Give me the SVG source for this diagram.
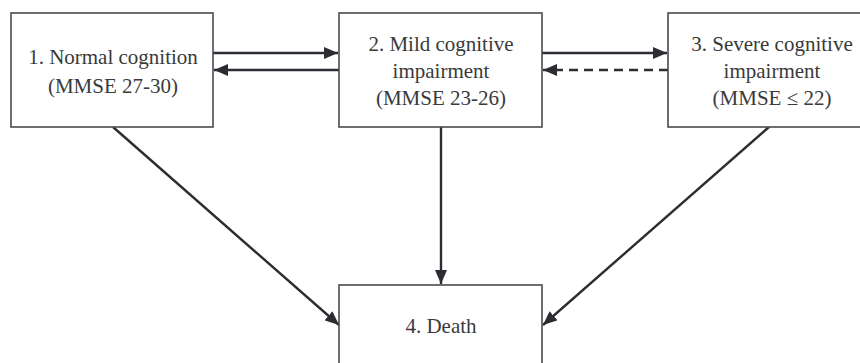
<svg xmlns="http://www.w3.org/2000/svg" width="860" height="363" viewBox="0 0 860 363">
<defs>
<style>
.box{fill:#fff;stroke:#4a4a4f;stroke-width:1.6}
.c{stroke:#2b2d33;stroke-width:2.4;fill:none}
.d{stroke-dasharray:9 6}
</style>
<marker id="a" viewBox="0 0 14 12" refX="14" refY="6" markerWidth="14" markerHeight="12" markerUnits="userSpaceOnUse" orient="auto">
<path d="M0,0 L14,6 L0,12 z" fill="#2b2d33"/>
</marker>
</defs>
<rect width="860" height="363" fill="#fff"/>
<g id="connectors">
<line class="c" x1="213" y1="53" x2="338" y2="53" marker-end="url(#a)"/>
<line class="c" x1="339" y1="70" x2="214" y2="70" marker-end="url(#a)"/>
<line class="c" x1="542" y1="53" x2="667" y2="53" marker-end="url(#a)"/>
<line class="c d" x1="668" y1="70" x2="543" y2="70" marker-end="url(#a)"/>
<line class="c" x1="441" y1="127" x2="441" y2="284" marker-end="url(#a)"/>
<line class="c" x1="113" y1="127" x2="339" y2="325" marker-end="url(#a)"/>
<line class="c" x1="769" y1="127" x2="543" y2="325" marker-end="url(#a)"/>
</g>
<g font-family="Liberation Serif" font-size="21" fill="#3a3a3a" text-anchor="middle">
<g id="n1">
<rect class="box" x="11" y="13" width="202" height="114"/>
<text x="113" y="64">1. Normal cognition</text>
<text x="113" y="93">(MMSE 27-30)</text>
</g>
<g id="n2">
<rect class="box" x="339" y="13" width="203" height="114"/>
<text x="441" y="51">2. Mild cognitive</text>
<text x="441" y="78">impairment</text>
<text x="441" y="105">(MMSE 23-26)</text>
</g>
<g id="n3">
<rect class="box" x="668" y="13" width="210" height="114"/>
<text x="772" y="51">3. Severe cognitive</text>
<text x="772" y="78">impairment</text>
<text x="772" y="105">(MMSE ≤ 22)</text>
</g>
<g id="n4">
<rect class="box" x="339" y="285" width="203" height="100"/>
<text x="441" y="333">4. Death</text>
</g>
</g>
</svg>
